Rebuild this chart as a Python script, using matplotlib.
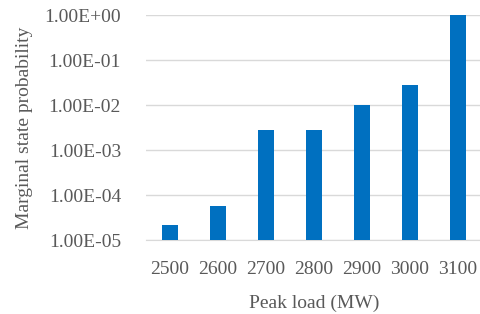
import matplotlib
matplotlib.use("Agg")
import matplotlib.pyplot as plt
from matplotlib.ticker import FixedLocator, FixedFormatter

categories = ["2500", "2600", "2700", "2800", "2900", "3000", "3100"]
values = [2.2e-5, 5.8e-5, 2.8e-3, 2.8e-3, 1.0e-2, 2.8e-2, 1.0]
ytick_vals = [1e-5, 1e-4, 1e-3, 1e-2, 1e-1, 1e0]
ytick_labels = ["1.00E-05", "1.00E-04", "1.00E-03", "1.00E-02", "1.00E-01", "1.00E+00"]

plt.rcParams['font.family'] = ['Liberation Serif', 'DejaVu Serif']
text_color = "#595959"

fig = plt.figure(figsize=(4.8, 3.14), dpi=100)
ax = fig.add_axes([146/480, 1-240/314, 336/480, 225/314])
x = list(range(len(categories)))
ax.bar(x, values, width=0.32, color="#0070C0", zorder=3)
ax.set_yscale("log")
ax.set_ylim(1e-5, 1)
ax.set_xlim(-0.5, len(categories) - 0.5)
ax.yaxis.set_major_locator(FixedLocator(ytick_vals))
ax.yaxis.set_major_formatter(FixedFormatter(ytick_labels))
ax.yaxis.set_minor_locator(FixedLocator([]))
ax.set_xticks(x)
ax.set_xticklabels(categories)
ax.grid(axis="y", color="#d9d9d9", linewidth=1.0, zorder=0)
for s in ["top", "right", "left"]:
    ax.spines[s].set_visible(False)
ax.spines["bottom"].set_color("#d9d9d9")
ax.tick_params(axis="both", length=0, labelsize=14, colors=text_color)
ax.tick_params(axis="y", pad=18)
ax.tick_params(axis="x", pad=15)
ax.set_xlabel("Peak load (MW)", fontsize=14, color=text_color, labelpad=12)
ax.set_ylabel("Marginal state probability", fontsize=14, color=text_color, labelpad=8)
fig.savefig("out.png", dpi=100)
